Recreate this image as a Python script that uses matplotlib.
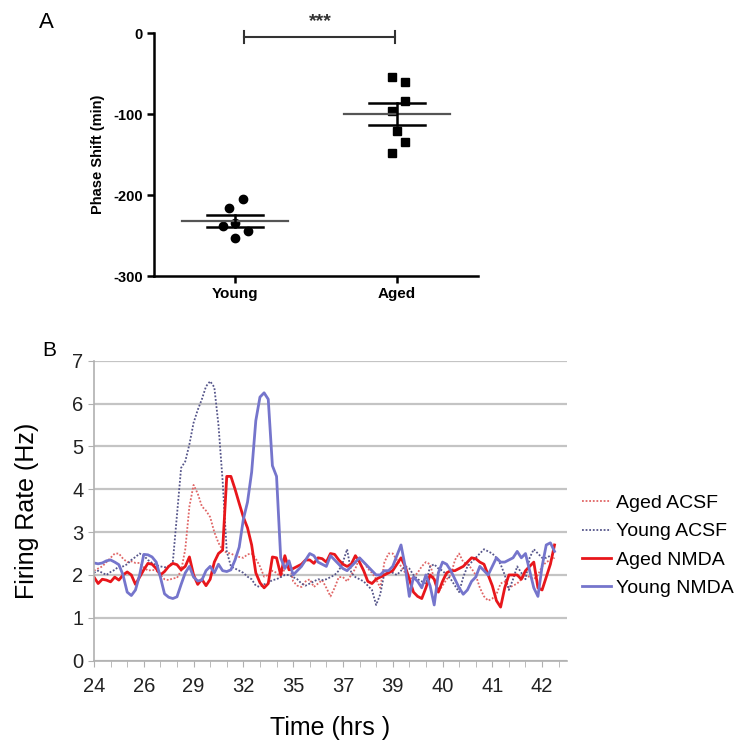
import matplotlib
matplotlib.use('Agg')
import matplotlib.pyplot as plt
import numpy as np

plt.rcParams['font.family'] = ['Liberation Sans', 'DejaVu Sans']
plt.rcParams['axes.unicode_minus'] = False

# ---- panel A data (phase shift, min) ----
young_shift = [-204.8, -216.3, -238.2, -234.1, -244.0, -252.6]
young_jitter = [0.047, -0.039, -0.076, 0.0, 0.082, 0.0]
aged_shift = [-53.6, -59.8, -83.7, -96.0, -120.4, -134.0, -148.3]
aged_jitter = [-0.033, 0.05, 0.05, -0.033, 0.0, 0.05, -0.033]
group_names = ['Young', 'Aged']

# ---- panel B data (firing rate, Hz) ----
time_labels = ['24', '26', '29', '32', '35', '37', '39', '40', '41', '42']

aged_acsf = [
    2.10, 2.15, 2.20, 2.30, 2.40, 2.50, 2.50, 2.38, 2.30, 2.32,
    2.28, 2.28, 2.18, 2.10, 2.12, 2.10, 2.00, 1.90, 1.88, 1.92,
    1.93, 2.10, 2.60, 3.60, 4.10, 3.90, 3.60, 3.50, 3.35, 3.00,
    2.75, 2.58, 2.52, 2.50, 2.45, 2.42, 2.40, 2.48, 2.50, 2.38,
    2.20, 1.96, 2.00, 2.10, 2.05, 1.95, 2.15, 2.30, 1.85, 1.75,
    1.72, 1.85, 1.90, 1.72, 1.80, 1.88, 1.70, 1.50, 1.70, 1.95,
    1.95, 1.85, 2.00, 2.15, 2.40, 2.30, 2.15, 2.05, 1.90, 1.70,
    2.30, 2.50, 2.50, 2.35, 2.20, 2.05, 1.90, 1.95, 2.05, 2.20,
    2.30, 2.25, 1.90, 1.60, 1.75, 1.90, 2.00, 2.35, 2.50, 2.30,
    2.25, 2.15, 2.00, 1.70, 1.50, 1.40, 1.45, 1.55, 1.80, 1.85,
    1.70, 1.75, 1.80, 1.90, 2.00, 1.95, 1.90, 2.00, 2.20, 2.30, 2.35, 2.40]

young_acsf = [
    2.05, 2.10, 2.05, 2.00, 2.07, 2.12, 2.20, 2.20, 2.25, 2.35,
    2.42, 2.50, 2.45, 2.35, 2.28, 2.23, 2.20, 2.18, 2.20, 2.30,
    3.40, 4.50, 4.65, 5.05, 5.55, 5.85, 6.10, 6.40, 6.52, 6.38,
    5.50, 4.20, 2.55, 2.20, 2.15, 2.10, 2.05, 1.96, 1.90, 1.75,
    1.72, 1.78, 1.82, 1.88, 1.90, 1.95, 2.00, 2.00, 1.95, 1.90,
    1.80, 1.75, 1.80, 1.85, 1.90, 1.88, 1.90, 1.95, 2.00, 2.10,
    2.30, 2.60, 2.05, 1.95, 1.90, 1.85, 1.75, 1.65, 1.30, 1.55,
    2.05, 2.10, 2.05, 2.00, 2.10, 2.20, 2.15, 2.00, 1.90, 1.85,
    1.80, 2.20, 2.25, 2.15, 2.10, 2.00, 1.90, 1.75, 1.60, 1.95,
    2.20, 2.30, 2.40, 2.50, 2.60, 2.55, 2.50, 2.40, 2.25, 2.00,
    1.65, 1.90, 2.20, 2.05, 1.90, 2.40, 2.60, 2.50, 2.40, 2.40, 2.45, 2.50]

aged_nmda = [
    1.95, 1.80, 1.90, 1.88, 1.84, 1.95, 1.88, 2.00, 2.07, 2.00,
    1.78, 1.95, 2.12, 2.27, 2.25, 2.15, 2.00, 2.08, 2.20, 2.27,
    2.24, 2.12, 2.20, 2.42, 2.00, 1.78, 1.90, 1.75, 1.90, 2.30,
    2.50, 2.58, 4.30, 4.30, 4.00, 3.67, 3.35, 3.10, 2.70, 2.05,
    1.82, 1.70, 1.80, 2.42, 2.40, 2.00, 2.45, 2.12, 2.15, 2.20,
    2.25, 2.35, 2.35, 2.27, 2.40, 2.38, 2.30, 2.50, 2.48, 2.35,
    2.25, 2.20, 2.25, 2.45, 2.30, 2.10, 1.85, 1.80, 1.90, 1.95,
    2.00, 2.05, 2.10, 2.25, 2.40, 2.20, 1.90, 1.60, 1.50, 1.45,
    1.70, 2.00, 1.90, 1.60, 1.85, 2.05, 2.10, 2.10, 2.15, 2.20,
    2.30, 2.40, 2.38, 2.30, 2.25, 2.00, 1.75, 1.40, 1.25, 1.70,
    2.00, 2.00, 2.00, 1.90, 2.10, 2.20, 2.30, 1.70, 1.65, 1.95, 2.25, 2.70]

young_nmda = [
    2.28, 2.26, 2.28, 2.33, 2.35, 2.30, 2.24, 2.00, 1.60, 1.52,
    1.65, 2.00, 2.48, 2.47, 2.42, 2.30, 1.95, 1.56, 1.48, 1.45,
    1.49, 1.78, 2.05, 2.20, 1.95, 1.86, 1.88, 2.10, 2.20, 2.05,
    2.25, 2.10, 2.08, 2.12, 2.35, 2.65, 3.30, 3.70, 4.40, 5.60,
    6.15, 6.25, 6.10, 4.55, 4.30, 2.40, 2.15, 2.33, 2.00, 2.10,
    2.20, 2.35, 2.50, 2.45, 2.30, 2.25, 2.20, 2.45, 2.35, 2.25,
    2.15, 2.10, 2.20, 2.30, 2.40, 2.30, 2.20, 2.10, 2.00, 2.00,
    2.10, 2.10, 2.20, 2.45, 2.70, 2.20, 1.50, 1.95, 1.85, 1.70,
    2.00, 1.75, 1.30, 2.05, 2.30, 2.25, 2.10, 1.90, 1.70, 1.55,
    1.65, 1.85, 1.95, 2.20, 2.10, 2.00, 2.20, 2.40, 2.30, 2.30,
    2.35, 2.40, 2.55, 2.40, 2.50, 2.10, 1.70, 1.50, 2.20, 2.70, 2.75, 2.55]

STEP = 0.25  # samples per category tick


def mean_sem(values):
    v = np.array(values)
    return v.mean(), v.std(ddof=1) / np.sqrt(len(v))


def draw_group(ax, xc, values, jitter, marker):
    xs = [xc + j for j in jitter]
    ax.plot(xs, values, marker, color='black', markersize=6, linestyle='none', zorder=3)
    m, s = mean_sem(values)
    ax.plot([xc - 0.33, xc + 0.33], [m, m], color='#555555', lw=1.6, zorder=4)
    ax.plot([xc - 0.17, xc + 0.17], [m + s, m + s], color='black', lw=1.8, zorder=4)
    ax.plot([xc - 0.17, xc + 0.17], [m - s, m - s], color='black', lw=1.8, zorder=4)
    ax.plot([xc, xc], [m - s, m + s], color='black', lw=1.8, zorder=4)


def draw_panel_a(fig):
    ax = fig.add_axes([0.2073, 0.632, 0.436, 0.3236])
    draw_group(ax, 1, young_shift, young_jitter, 'o')
    draw_group(ax, 2, aged_shift, aged_jitter, 's')

    # significance bar
    ax.plot([1.056, 1.99], [-4, -4], color='#333333', lw=1.5, clip_on=False)
    ax.plot([1.056, 1.056], [3, -12], color='#333333', lw=1.5, clip_on=False)
    ax.plot([1.99, 1.99], [3, -12], color='#333333', lw=1.5, clip_on=False)
    ax.text(1.525, 14, '***', ha='center', va='center', fontsize=14,
            fontweight='bold', color='#333333')

    ax.set_xlim(0.5, 2.5)
    ax.set_ylim(-300, 0)
    ax.set_yticks([0, -100, -200, -300])
    ax.set_xticks([1, 2])
    ax.set_xticklabels(group_names, fontsize=11, fontweight='bold')
    for lab in ax.get_yticklabels():
        lab.set_fontweight('bold')
        lab.set_fontsize(10.5)
    ax.set_ylabel('Phase Shift (min)', fontsize=10.5, fontweight='bold', labelpad=6)
    ax.spines['top'].set_visible(False)
    ax.spines['right'].set_visible(False)
    for sp in ('left', 'bottom'):
        ax.spines[sp].set_linewidth(1.8)
    ax.tick_params(width=1.8, length=5, pad=3)
    fig.text(46 / 743, 1 - 22 / 750, 'A', fontsize=16, ha='center', va='center')


def draw_panel_b(fig):
    ax = fig.add_axes([0.1265, 0.1191, 0.6366, 0.4])
    t = np.arange(len(young_nmda)) * STEP
    dot = (0, (1, 1))
    ax.plot(t, aged_acsf, color='#e06666', lw=1.3, linestyle=dot, label='Aged ACSF')
    ax.plot(t, young_acsf, color='#55558a', lw=1.3, linestyle=dot, label='Young ACSF')
    ax.plot(t, aged_nmda, color='#e8161b', lw=2.0, label='Aged NMDA')
    ax.plot(t, young_nmda, color='#7575cc', lw=2.0, label='Young NMDA')

    ax.set_ylim(0, 7)
    ax.set_xlim(0, 28.5)
    ax.set_yticks(range(8))
    ax.set_xticks(np.arange(0, 29, 1), minor=True)
    ax.set_xticks(np.arange(0, 28, 3))
    ax.set_xticklabels(time_labels)
    ax.yaxis.grid(True, color='#c4c4c4', lw=1.6)
    ax.set_axisbelow(True)
    for sp in ('top', 'right'):
        ax.spines[sp].set_visible(False)
    for sp in ('left', 'bottom'):
        ax.spines[sp].set_color('#b0b0b0')
        ax.spines[sp].set_linewidth(1.2)
    ax.tick_params(axis='both', which='both', colors='#b0b0b0', labelcolor='#222222',
                   labelsize=14.5, length=4)
    ax.tick_params(axis='x', pad=8)
    ax.set_ylabel('Firing Rate (Hz)', fontsize=18, labelpad=24)
    ax.set_xlabel('Time (hrs )', fontsize=18, labelpad=14)
    fig.text(49 / 743, 1 - 350 / 750, 'B', fontsize=15, ha='center', va='center')

    fig.legend(loc='upper left', bbox_to_anchor=(0.76, 0.364), frameon=False,
               fontsize=14, handlelength=1.5, handletextpad=0.25, labelspacing=0.55)


def main():
    fig = plt.figure(figsize=(7.43, 7.5), dpi=100)
    draw_panel_a(fig)
    draw_panel_b(fig)
    fig.savefig('out.png', dpi=100)
    plt.close(fig)


if __name__ == '__main__':
    main()
